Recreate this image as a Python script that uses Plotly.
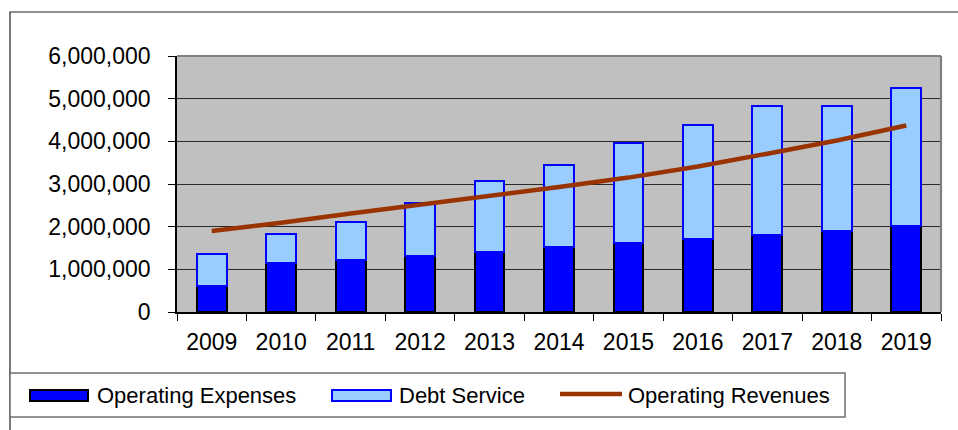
import plotly.graph_objects as go

# ---- data ----
years = ["2009", "2010", "2011", "2012", "2013", "2014", "2015", "2016", "2017", "2018", "2019"]
operating_expenses = [620000, 1140000, 1220000, 1310000, 1410000, 1520000, 1610000, 1710000, 1810000, 1910000, 2020000]
debt_service = [740000, 690000, 880000, 1240000, 1650000, 1930000, 2340000, 2680000, 3010000, 2910000, 3240000]
operating_revenues = [1900000, 2090000, 2310000, 2510000, 2710000, 2930000, 3150000, 3410000, 3710000, 4020000, 4370000]
series_names = ["Operating Expenses", "Debt Service", "Operating Revenues"]

# ---- layout geometry (pixels) ----
W, H = 958, 430
PL, PR, PT, PB = 177, 941, 56, 312   # plot area edges


def px(x):
    return (x - PL) / (PR - PL)


def py(y):
    return (PB - y) / (PB - PT)


FONT = "Liberation Sans, Arial, sans-serif"
DARK_BLUE = "#0000FF"
LIGHT_BLUE = "#99CCFF"
REV_COLOR = "#993300"

fig = go.Figure()
fig.add_trace(go.Bar(
    x=years, y=operating_expenses, name=series_names[0],
    marker=dict(color=DARK_BLUE, line=dict(color="black", width=2)),
    width=0.43,
))
fig.add_trace(go.Bar(
    x=years, y=debt_service, name=series_names[1],
    marker=dict(color=LIGHT_BLUE, line=dict(color=DARK_BLUE, width=2)),
    width=0.43,
))
fig.add_trace(go.Scatter(
    x=years, y=operating_revenues, name=series_names[2], mode="lines",
    line=dict(color=REV_COLOR, width=4.5),
))

shapes = [
    # outer chart frame
    dict(type="rect", xref="paper", yref="paper",
         x0=px(10), x1=px(965), y0=py(12), y1=py(440),
         line=dict(color="#222222", width=1.2), layer="above"),
    # plot area top / right border
    dict(type="line", xref="paper", yref="paper", x0=0, x1=1, y0=1, y1=1,
         line=dict(color="#808080", width=2.2), layer="above"),
    dict(type="line", xref="paper", yref="paper", x0=1, x1=1, y0=0, y1=1,
         line=dict(color="#808080", width=2.2), layer="above"),
    # legend box
    dict(type="rect", xref="paper", yref="paper",
         x0=px(10), x1=px(845), y0=py(373), y1=py(417),
         line=dict(color="#707070", width=1.5), fillcolor="white", layer="above"),
    # legend keys
    dict(type="rect", xref="paper", yref="paper",
         x0=px(30), x1=px(88), y0=py(390), y1=py(401),
         line=dict(color="black", width=2), fillcolor=DARK_BLUE, layer="above"),
    dict(type="rect", xref="paper", yref="paper",
         x0=px(332), x1=px(391), y0=py(390), y1=py(401),
         line=dict(color=DARK_BLUE, width=2), fillcolor=LIGHT_BLUE, layer="above"),
    dict(type="line", xref="paper", yref="paper",
         x0=px(560), x1=px(622), y0=py(394), y1=py(394),
         line=dict(color=REV_COLOR, width=4.5), layer="above"),
]

annotations = []
for name, xpos in zip(series_names, [95, 397, 626]):
    annotations.append(dict(
        text=name, xref="paper", yref="paper", x=px(xpos), y=py(395.5),
        xanchor="left", yanchor="middle", showarrow=False,
        font=dict(family=FONT, size=22, color="black"),
    ))

fig.update_layout(
    width=W, height=H,
    margin=dict(l=PL, r=W - PR, t=PT, b=H - PB, pad=0),
    paper_bgcolor="white", plot_bgcolor="#C0C0C0",
    barmode="stack", bargap=0.57,
    showlegend=False,
    font=dict(family=FONT, size=23, color="black"),
    shapes=shapes, annotations=annotations,
    xaxis=dict(
        type="category", tickson="boundaries", ticks="outside", ticklen=7,
        tickcolor="black", tickwidth=1.2, showline=True, linecolor="black",
        linewidth=1.5, showgrid=False, ticklabelstandoff=9,
        tickfont=dict(family=FONT, size=23),
    ),
    yaxis=dict(
        range=[0, 6000000], dtick=1000000, tickformat=",d",
        ticks="outside", ticklen=7, tickcolor="black", tickwidth=1.2,
        showline=True, linecolor="black", linewidth=1.5,
        showgrid=True, gridcolor="#2a2a2a", gridwidth=1, zeroline=False,
        ticklabelstandoff=13, tickfont=dict(family=FONT, size=23),
    ),
)

fig.write_html("out.html")
